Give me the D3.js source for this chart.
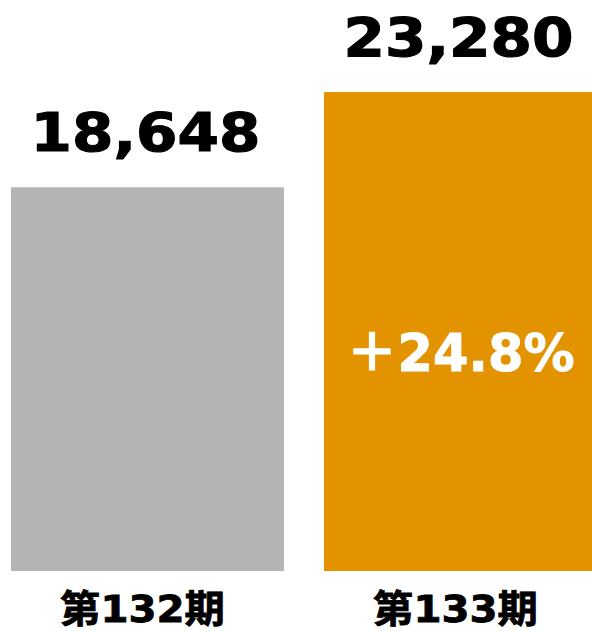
<!DOCTYPE html>
<html>
<head>
<meta charset="utf-8">
<script src="https://cdn.jsdelivr.net/npm/d3@7"></script>
<style>
  body { margin: 0; background: #fff; }
  svg { display: block; }
</style>
</head>
<body>
<div id="chart"></div>
<script>
// chart data
const categories = ["第132期", "第133期"];
const values = [18648, 23280];
const barColors = ["#b4b4b4", "#e39200"];
const growthLabel = "＋24.8%";

const W = 592, H = 631;

const svg = d3.select("#chart").append("svg")
  .attr("width", W)
  .attr("height", H);

// band scale - second bar runs off the right edge like the original
const x = d3.scaleBand()
  .domain(categories)
  .range([11, 597])
  .paddingInner(0.1278)
  .paddingOuter(0);

const y = d3.scaleLinear()
  .domain([0, 23280])
  .range([571, 92]);

const fmt = d3.format(",");

// the original font is wider than DejaVu, so stretch each text sideways
function stretch(sel, cx, by, target) {
  sel.each(function (d, i) {
    const t = d3.select(this);
    const w = this.getComputedTextLength();
    t.attr("transform", `translate(${cx(d, i)},${by(d, i)}) scale(${target / w},1)`);
  });
}

svg.selectAll("rect.bar")
  .data(values)
  .join("rect")
  .attr("class", "bar")
  .attr("x", (d, i) => x(categories[i]))
  .attr("y", d => y(d))
  .attr("width", x.bandwidth())
  .attr("height", d => y(0) - y(d))
  .attr("fill", (d, i) => barColors[i]);

// value labels above the bars
svg.selectAll("text.val")
  .data(values)
  .join("text")
  .attr("class", "val")
  .attr("text-anchor", "middle")
  .attr("font-family", "'DejaVu Sans', sans-serif")
  .attr("font-weight", "bold")
  .attr("font-size", 54)
  .attr("fill", "#000")
  .attr("stroke", "#000")
  .attr("stroke-width", 1.2)
  .text(d => fmt(d))
  .call(stretch, (d, i) => x(categories[i]) + x.bandwidth() / 2 - 2, d => y(d) - 36, 230);

// growth rate inside the second bar
svg.append("text")
  .datum(growthLabel)
  .attr("text-anchor", "middle")
  .attr("font-family", "'DejaVu Sans', 'Noto Sans CJK JP', sans-serif")
  .attr("font-weight", "bold")
  .attr("font-size", 52)
  .attr("fill", "#fff")
  .attr("stroke", "#fff")
  .attr("stroke-width", 1)
  .text(d => d)
  .call(stretch, () => x(categories[1]) + x.bandwidth() / 2, () => 371, 228);

// category labels
svg.selectAll("text.cat")
  .data(categories)
  .join("text")
  .attr("class", "cat")
  .attr("text-anchor", "middle")
  .attr("font-family", "'DejaVu Sans', 'Noto Sans CJK JP', sans-serif")
  .attr("font-weight", "bold")
  .attr("font-size", 38)
  .attr("fill", "#000")
  .attr("stroke", "#000")
  .attr("stroke-width", 0.8)
  .text(d => d)
  .call(stretch, d => x(d) + x.bandwidth() / 2 - 5, () => 622, 165);
</script>
</body>
</html>
